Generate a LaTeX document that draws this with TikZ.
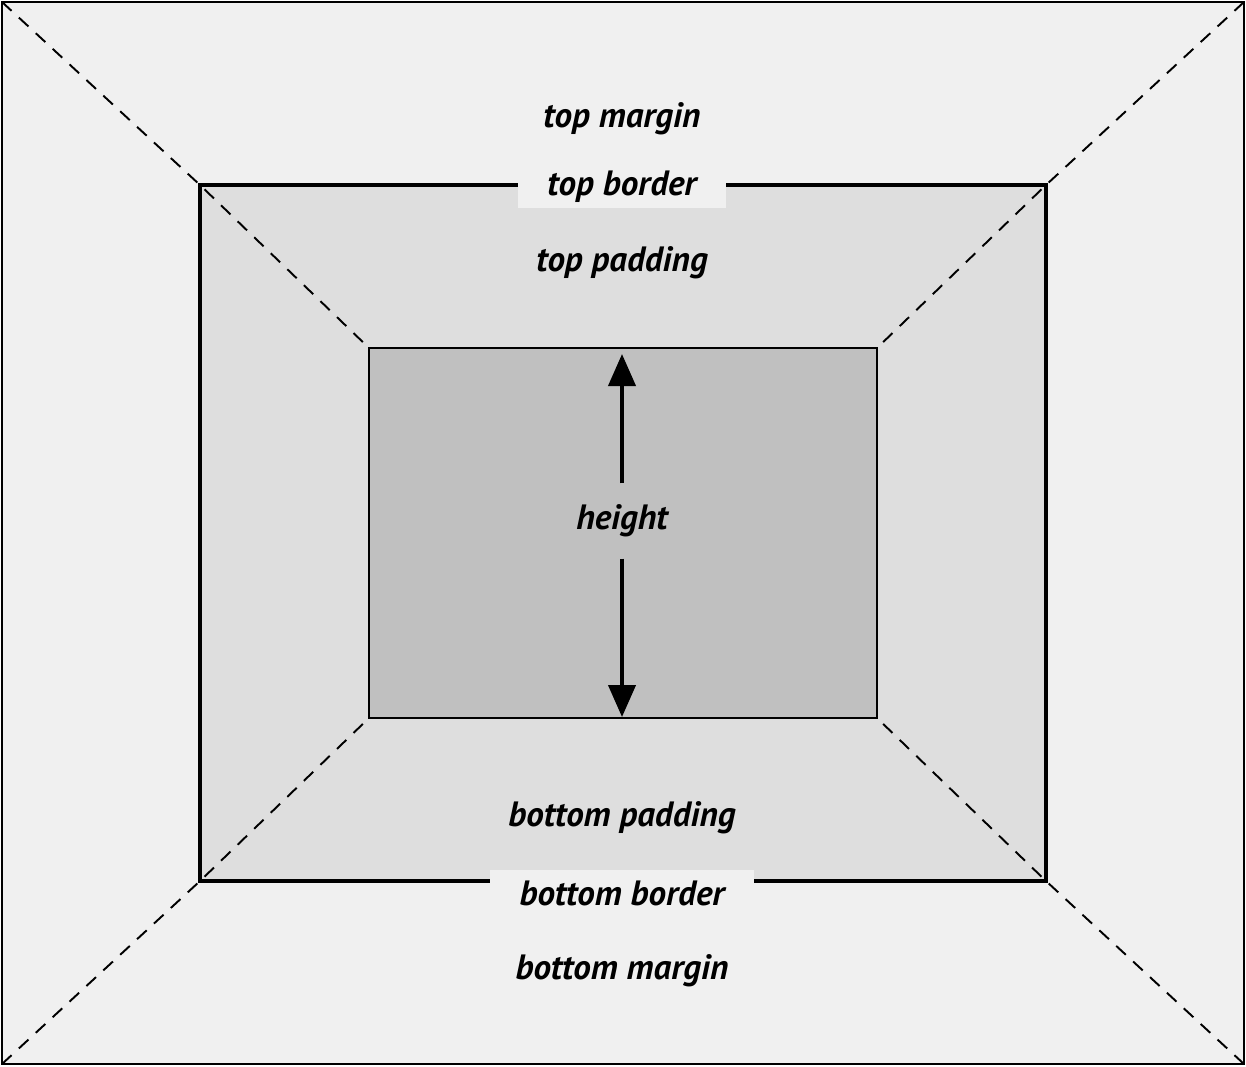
\documentclass[tikz,border=0pt]{standalone}
\usepackage{fontspec}
\setmainfont{PT Sans}
\usetikzlibrary{arrows.meta}
\definecolor{marginfill}{HTML}{F0F0F0}
\definecolor{paddingfill}{HTML}{DEDEDE}
\definecolor{contentfill}{HTML}{C0C0C0}
\tikzset{
  boxlabel/.style={font=\fontsize{20}{23}\selectfont\bfseries\itshape, inner sep=0pt},
  borderlabel/.style={boxlabel, fill=marginfill, draw=black!6, inner xsep=0.58cm, minimum height=0.8cm},
  diag/.style={dash pattern=on 0.26cm off 0.2cm, line width=1.1pt}
}
\begin{document}
\begin{tikzpicture}[x=0.02cm, y=-0.02cm]
\useasboundingbox (0,0) rectangle (1246,1066);

% margin, border, padding, content
\draw[fill=marginfill, line width=0.7pt] (2,2) rectangle (1244,1064);
\draw[fill=paddingfill, line width=2.3pt] (200,185) rectangle (1046,881);
\draw[fill=contentfill, line width=0.9pt] (369,348) rectangle (877,718);

% corners
\coordinate (mtl) at (2,2);    \coordinate (mtr) at (1244,2);
\coordinate (mbl) at (2,1064); \coordinate (mbr) at (1244,1064);
\coordinate (btl) at (200,185); \coordinate (btr) at (1046,185);
\coordinate (bbl) at (200,881); \coordinate (bbr) at (1046,881);
\coordinate (ctl) at (369,348); \coordinate (ctr) at (877,348);
\coordinate (cbl) at (369,718); \coordinate (cbr) at (877,718);

\draw[diag] (mtl) -- (btl) -- (ctl);
\draw[diag] (mtr) -- (btr) -- (ctr);
\draw[diag] (mbl) -- (bbl) -- (cbl);
\draw[diag] (mbr) -- (bbr) -- (cbr);

% labels
\node[boxlabel] (topmargin) at (622,119) {top margin};
\node[borderlabel] (topborder) at (622,187) {top border};
\node[boxlabel] (toppadding) at (622,263) {top padding};
\node[boxlabel, inner ysep=0.42cm] (height) at (622,521) {height};
\node[boxlabel] (bottompadding) at (622,818) {bottom padding};
\node[borderlabel, minimum height=0.92cm] (bottomborder) at (622,893) {bottom border};
\node[boxlabel] (bottommargin) at (622,971) {bottom margin};

% height arrow
\coordinate (htop) at (622,354);
\coordinate (hbot) at (622,717);
\draw[line width=2.3pt, -{Triangle[length=0.64cm, width=0.54cm]}] (height) -- (htop);
\draw[line width=2.3pt, -{Triangle[length=0.64cm, width=0.54cm]}] (height) -- (hbot);
\end{tikzpicture}
\end{document}
